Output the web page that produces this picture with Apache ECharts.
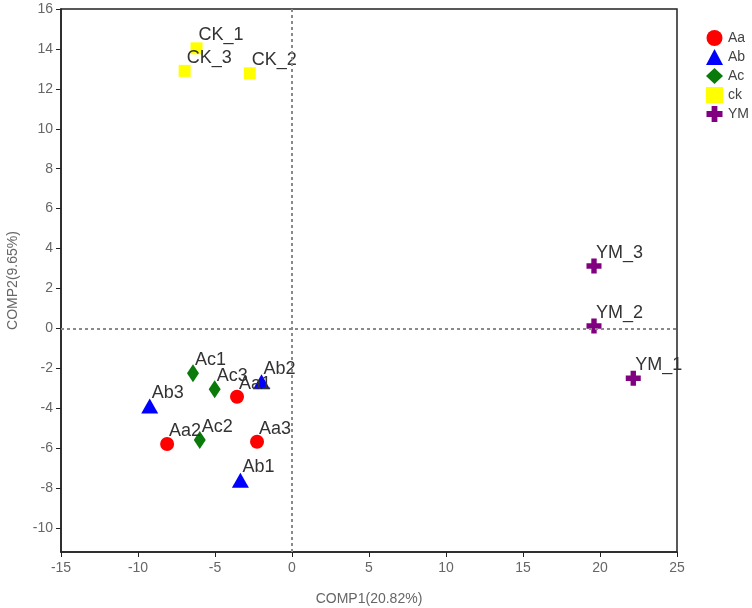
<!DOCTYPE html>
<html><head><meta charset="utf-8">
<script src="https://cdn.jsdelivr.net/npm/echarts@6/dist/echarts.min.js"></script>
<style>html,body{margin:0;padding:0;background:#fff}#c{width:752px;height:608px}</style>
</head><body><div id="c"></div>
<script>
const groups = ['Aa','Ab','Ac','ck','YM'];
const namesAa = ['Aa1','Aa2','Aa3'];
const xAa = [-3.57, -8.11, -2.27];
const yAa = [-3.42, -5.79, -5.68];
const namesAb = ['Ab1','Ab2','Ab3'];
const xAb = [-3.35, -1.98, -9.24];
const yAb = [-7.6, -2.67, -3.89];
const namesAc = ['Ac1','Ac2','Ac3'];
const xAc = [-6.43, -5.99, -5.02];
const yAc = [-2.25, -5.59, -3.05];
const namesCk = ['CK_1','CK_2','CK_3'];
const xCk = [-6.2, -2.74, -6.97];
const yCk = [14.03, 12.78, 12.9];
const namesYM = ['YM_1','YM_2','YM_3'];
const xYM = [22.16, 19.61, 19.61];
const yYM = [-2.5, 0.12, 3.13];
const xTicks = [-15,-10,-5,0,5,10,15,20,25];
const yTicks = [-10,-8,-6,-4,-2,0,2,4,6,8,10,12,14,16];

const cross = 'path://M3.2,0 H6.8 V3.2 H10 V6.8 H6.8 V10 H3.2 V6.8 H0 V3.2 H3.2 Z';
const styles = [
  {symbol:'circle', size:[14,14], color:'#ff0000'},
  {symbol:'triangle', size:[17,15], color:'#0000ff'},
  {symbol:'diamond', size:[12,18], color:'#0a7a0a'},
  {symbol:'rect', size:[12,12], color:'#ffff00'},
  {symbol:cross, size:[15,15], color:'#800080'}
];
const sets = [[namesAa,xAa,yAa],[namesAb,xAb,yAb],[namesAc,xAc,yAc],[namesCk,xCk,yCk],[namesYM,xYM,yYM]];

const series = groups.map((g,i)=>{
  const [n,xs,ys] = sets[i];
  const st = styles[i];
  const s = {
    name:g, type:'scatter', symbol:st.symbol, symbolSize:st.size,
    itemStyle:{color:st.color, opacity:1},
    data: n.map((nm,k)=>({name:nm, value:[xs[k], ys[k]]})),
    label:{show:true, formatter:p=>p.name, position:[st.size[0]/2+2, st.size[1]/2-13],
      align:'left', verticalAlign:'middle', fontSize:18, color:'#333', fontFamily:'Liberation Sans, Arial, sans-serif'},
    labelLayout:{hideOverlap:false},
    emphasis:{disabled:true}
  };
  if(i===0){ s.zlevel = 1; }
  if(i===1){
    s.markLine = {silent:true, symbol:'none', animation:false,
      lineStyle:{type:[3,3], color:'#8a8a8a', width:2},
      label:{show:false},
      data:[{xAxis:0},{yAxis:0}]};
  }
  return s;
});

const chart = echarts.init(document.getElementById('c'));
chart.setOption({
  animation:false,
  backgroundColor:'#fff',
  textStyle:{fontFamily:'Liberation Sans, Arial, sans-serif'},
  grid:{left:61, right:75, top:9, bottom:56, show:true, borderColor:'#222', borderWidth:1.5,
    containLabel:false, outerBoundsMode:'none'},
  legend:{orient:'vertical', left:701, top:25, itemWidth:17, itemHeight:16, itemGap:3,
    textStyle:{fontSize:14, color:'#444'}, data:groups.map((g,i)=>({name:g, icon:styles[i].symbol}))},
  xAxis:{type:'value', min:-15, max:25, interval:5, name:'COMP1(20.82%)', nameLocation:'middle', nameGap:40,
    nameTextStyle:{fontSize:14, color:'#666'},
    axisLine:{show:true, onZero:false, lineStyle:{color:'#222', width:1.5}},
    axisTick:{show:true, length:5, lineStyle:{color:'#222'}},
    axisLabel:{fontSize:14, color:'#666', margin:9, formatter:v=>xTicks.includes(v)?String(v):''},
    splitLine:{show:false}},
  yAxis:{type:'value', min:-11.2, max:16, name:'COMP2(9.65%)', nameLocation:'middle', nameGap:41,
    nameTextStyle:{fontSize:14, color:'#666'},
    axisLine:{show:true, onZero:false, lineStyle:{color:'#222', width:1.5}},
    axisTick:{show:true, length:5, customValues:yTicks, lineStyle:{color:'#222'}},
    axisLabel:{fontSize:14, color:'#666', margin:8, customValues:yTicks},
    splitLine:{show:false}},
  series: series
});
</script></body></html>
